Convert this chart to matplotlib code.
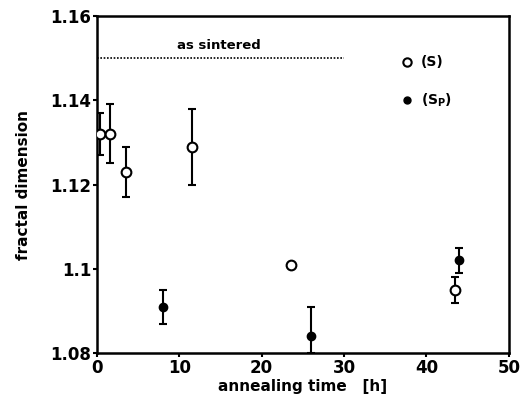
import matplotlib
matplotlib.use("Agg")
import matplotlib.pyplot as plt

# S series (open circles)
s_time = [0.4, 1.6, 3.5, 11.5, 23.5, 43.5]
s_dim = [1.132, 1.132, 1.123, 1.129, 1.101, 1.095]
s_err_lo = [0.005, 0.007, 0.006, 0.009, 0.0, 0.003]
s_err_hi = [0.005, 0.007, 0.006, 0.009, 0.0, 0.003]

# Sp series (filled)
sp_time = [8.0, 26.0, 43.9]
sp_dim = [1.091, 1.084, 1.102]
sp_err_lo = [0.004, 0.004, 0.003]
sp_err_hi = [0.004, 0.007, 0.003]

as_sintered = 1.15
as_sintered_span = [0, 30]

xticks = [0, 10, 20, 30, 40, 50]
yticks = [1.08, 1.10, 1.12, 1.14, 1.16]
yticklabels = ["1.08", "1.1", "1.12", "1.14", "1.16"]

plt.rcParams['font.family'] = ['DejaVu Sans']
plt.rcParams['font.weight'] = 'bold'

fig = plt.figure(figsize=(5.24, 3.99), dpi=100)
ax = fig.add_axes([0.185, 0.115, 0.786, 0.845])

ax.errorbar(s_time, s_dim, yerr=[s_err_lo, s_err_hi], fmt='o', mfc='white',
            mec='black', mew=1.5, ms=7, ecolor='black', elinewidth=1.5,
            capsize=3, capthick=1.5, color='black', zorder=3)
ax.errorbar(sp_time, sp_dim, yerr=[sp_err_lo, sp_err_hi], fmt='o', mfc='black',
            mec='black', ms=6, ecolor='black', elinewidth=1.5,
            capsize=3, capthick=1.5, color='black', zorder=3)

ax.plot(as_sintered_span, [as_sintered, as_sintered], linestyle=(0, (1, 1)),
        color='black', linewidth=1.2)
ax.text(14.8, 1.1515, "as sintered", ha='center', va='bottom', fontsize=9.5,
        fontweight='bold')

# legend-like annotations
ax.plot([37.7], [1.149], 'o', mfc='white', mec='black', mew=1.5, ms=6)
ax.text(39.3, 1.149, "(S)", ha='left', va='center', fontsize=10, fontweight='bold')
ax.plot([37.7], [1.140], 'o', mfc='black', mec='black', ms=5)
ax.text(39.3, 1.140, "(S$_\\mathbf{P}$)", ha='left', va='center', fontsize=10,
        fontweight='bold')

ax.set_xlim(0, 50)
ax.set_ylim(1.08, 1.16)
ax.set_xticks(xticks)
ax.set_yticks(yticks)
ax.set_yticklabels(yticklabels)
ax.tick_params(direction='out', length=3, width=1.5, labelsize=12, pad=1)
for lab in ax.get_xticklabels() + ax.get_yticklabels():
    lab.set_fontweight('bold')
for sp in ax.spines.values():
    sp.set_linewidth(1.8)

ax.set_xlabel("annealing time   [h]", fontsize=11, fontweight='bold', labelpad=2)
ax.set_ylabel("fractal dimension", fontsize=11, fontweight='bold', labelpad=14)

fig.savefig("out.png", dpi=100)
